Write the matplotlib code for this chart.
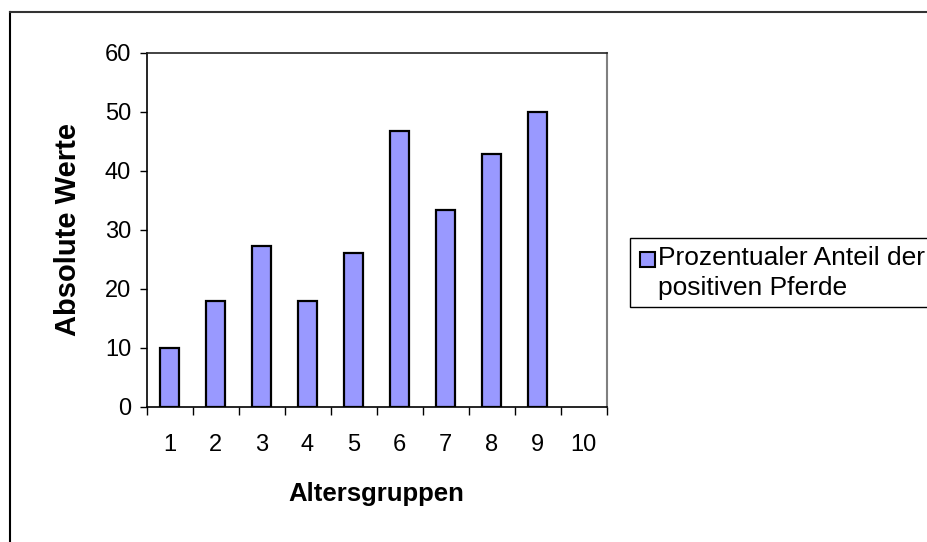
import matplotlib
matplotlib.use("Agg")
import matplotlib.pyplot as plt
from matplotlib.lines import Line2D
from matplotlib.patches import Rectangle
import numpy as np

plt.rcParams['font.family'] = ['Liberation Sans', 'DejaVu Sans']

categories = ['1', '2', '3', '4', '5', '6', '7', '8', '9', '10']
values = [10, 18, 27.3, 18, 26.1, 46.7, 33.3, 42.9, 50, 0]
series_name = 'Prozentualer Anteil der\npositiven Pferde'

BAR_COLOR = '#9999FF'
W, H = 928, 542
fig = plt.figure(figsize=(W / 100, H / 100), dpi=100)
ax = fig.add_axes([146.5 / W, 1 - 406.7 / H, 460 / W, 354 / H])

x = np.arange(1, len(categories) + 1)
plot_vals = [v if v > 0 else np.nan for v in values]
ax.bar(x, plot_vals, width=0.41, color=BAR_COLOR, edgecolor='black', linewidth=1.6,
       label=series_name, zorder=3)

ax.set_xlim(0.5, len(categories) + 0.5)
ax.set_ylim(0, 60)
ax.set_yticks(range(0, 61, 10))
ax.tick_params(axis='y', direction='out', length=5, width=1, labelsize=17, pad=6, color='black')
ax.set_xticks(x)
ax.set_xticklabels(categories)
ax.tick_params(axis='x', which='major', length=0, labelsize=17, pad=20)
ax.set_xticks(np.arange(0.5, len(categories) + 1, 1), minor=True)
ax.tick_params(axis='x', which='minor', direction='out', length=6, width=1, color='black')

for s in ['left', 'bottom']:
    ax.spines[s].set_color('black')
    ax.spines[s].set_linewidth(1.2)
ax.spines['top'].set_color('#222222')
ax.spines['top'].set_linewidth(1.2)
ax.spines['right'].set_color('#808080')
ax.spines['right'].set_linewidth(1.5)

ax.set_xlabel('Altersgruppen', fontsize=18.5, fontweight='bold', va='top')
ax.xaxis.set_label_coords(0.5, -0.213)
ax.set_ylabel('Absolute Werte', fontsize=21, fontweight='bold', va='bottom')
ax.yaxis.set_label_coords(-0.140, 0.5)

# legend (Excel style box, cut at right edge)
fig.add_artist(Rectangle((630 / W, 1 - 307 / H), 320 / W, 69 / H, transform=fig.transFigure,
                         facecolor='white', edgecolor='black', linewidth=1.0))
fig.add_artist(Rectangle((640 / W, 1 - 267 / H), 15 / W, 15 / H, transform=fig.transFigure,
                         facecolor=BAR_COLOR, edgecolor='black', linewidth=1.5))
fig.text(658 / W, 1 - 246 / H, series_name, fontsize=19, ha='left', va='top',
         linespacing=1.3)

# outer chart frame
fig.add_artist(Line2D([10 / W, 10 / W], [0, 1 - 12 / H], transform=fig.transFigure,
                      color='black', linewidth=1.5))
fig.add_artist(Line2D([10 / W, 1], [1 - 12 / H, 1 - 12 / H], transform=fig.transFigure,
                      color='#333333', linewidth=1.5))

fig.savefig('out.png', dpi=100)
